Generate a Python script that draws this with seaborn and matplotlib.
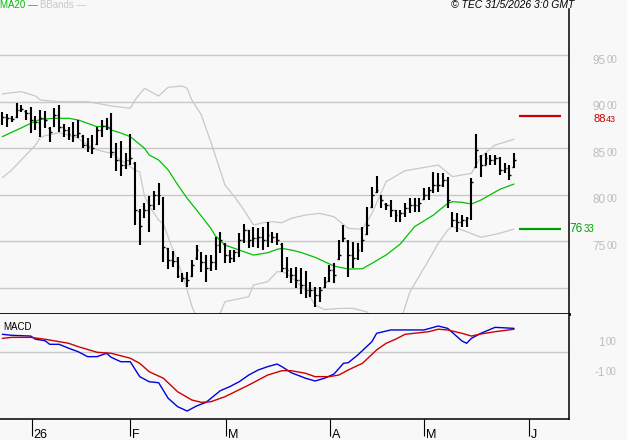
import numpy as np
import pandas as pd
import matplotlib
matplotlib.use("Agg")
import matplotlib.pyplot as plt
import matplotlib.transforms as mtransforms
import seaborn as sns

# ---------------- data ----------------
highs = [8894, 8869, 8851, 8984, 8966, 8912, 8941, 8848, 8912, 8902,
         8733, 8931, 8966, 8759, 8733, 8780, 8805, 8644, 8608, 8644,
         8733, 8805, 8821, 8883, 8555, 8583, 8447, 8654, 8357, 7846,
         7910, 7988, 8045, 8131, 7974, 7435, 7397, 7336, 7161, 7175,
         7301, 7462, 7390, 7360, 7355, 7551, 7605, 7480, 7408, 7408,
         7588, 7688, 7623, 7659, 7641, 7659, 7712, 7605, 7588, 7480,
         7336, 7215, 7229, 7212, 7183, 7068, 7014, 7014, 7121, 7247,
         7265, 7516, 7677, 7516, 7497, 7480, 7659, 7873, 8088, 8203,
         7999, 7910, 7945, 7838, 7838, 7910, 7964, 7964, 7964, 8071,
         8088, 8249, 8232, 8232, 8196, 7820, 7802, 7784, 7766, 8178,
         8654, 8429, 8447, 8429, 8429, 8411, 8340, 8321, 8447]
lows = [8751, 8733, 8780, 8830, 8888, 8805, 8662, 8697, 8625, 8716,
        8572, 8733, 8679, 8625, 8590, 8572, 8608, 8501, 8464, 8436,
        8536, 8625, 8697, 8393, 8260, 8203, 8275, 8321, 7677, 7462,
        7749, 7605, 7838, 7892, 7283, 7204, 7229, 7104, 7065, 7014,
        7118, 7306, 7172, 7068, 7183, 7193, 7373, 7265, 7265, 7283,
        7336, 7480, 7427, 7444, 7427, 7408, 7444, 7480, 7462, 7175,
        7104, 7050, 6997, 6936, 6889, 6907, 6799, 6853, 6997, 7068,
        7050, 7301, 7497, 7121, 7212, 7301, 7390, 7569, 7856, 8017,
        7856, 7838, 7766, 7712, 7712, 7766, 7802, 7820, 7820, 7945,
        7945, 8017, 8035, 8088, 7856, 7659, 7605, 7659, 7659, 7731,
        8286, 8196, 8321, 8321, 8321, 8214, 8232, 8160, 8286]
opens = [8800, 8835, 8825, 8840, 8910, 8905, 8880, 8805, 8785, 8825,
         8720, 8745, 8860, 8730, 8700, 8655, 8645, 8630, 8535, 8515,
         8550, 8695, 8740, 8730, 8460, 8375, 8320, 8375, 8340, 7830,
         7760, 7840, 7890, 8000, 7960, 7425, 7300, 7290, 7130, 7105,
         7130, 7320, 7380, 7280, 7215, 7280, 7460, 7470, 7355, 7320,
         7385, 7515, 7620, 7515, 7535, 7550, 7515, 7570, 7550, 7470,
         7215, 7195, 7140, 7085, 7030, 6980, 6980, 6925, 7010, 7075,
         7195, 7310, 7510, 7505, 7355, 7320, 7410, 7580, 7870, 8030,
         7990, 7905, 7890, 7835, 7785, 7805, 7860, 7890, 7890, 7955,
         8000, 8055, 8105, 8105, 8160, 7810, 7730, 7710, 7730, 7750,
         8300, 8420, 8325, 8395, 8375, 8395, 8270, 8290, 8295]
closes = [8837, 8826, 8816, 8912, 8923, 8880, 8805, 8783, 8826, 8805,
          8676, 8859, 8730, 8697, 8654, 8644, 8665, 8536, 8515, 8504,
          8697, 8740, 8730, 8461, 8375, 8321, 8375, 8397, 7838, 7666,
          7838, 7892, 7999, 7999, 7440, 7301, 7290, 7129, 7107, 7086,
          7247, 7408, 7279, 7215, 7279, 7462, 7516, 7355, 7322, 7387,
          7516, 7623, 7516, 7537, 7548, 7516, 7569, 7548, 7516, 7215,
          7193, 7140, 7086, 7032, 6979, 6979, 6925, 6979, 7065, 7193,
          7140, 7355, 7537, 7355, 7322, 7408, 7516, 7677, 7999, 8053,
          7945, 7892, 7838, 7784, 7806, 7860, 7892, 7892, 7913, 7999,
          8053, 8107, 8107, 8160, 7945, 7731, 7709, 7731, 7752, 8139,
          8483, 8321, 8397, 8375, 8397, 8268, 8289, 8214, 8375]

ma_idx = [0, 4, 6, 8, 11, 14, 16, 18, 20, 22,
          23, 25, 27, 30, 31, 33, 35, 37, 39, 41,
          44, 45, 47, 50, 53, 56, 58, 59, 61, 63,
          66, 70, 73, 76, 78, 81, 84, 87, 91, 94,
          95, 97, 99, 101, 105, 108]
ma_val = [8626, 8720, 8769, 8812, 8823, 8823, 8805, 8769, 8733, 8737,
          8697, 8665, 8626, 8501, 8429, 8375, 8268, 8110, 7964, 7838,
          7641, 7559, 7462, 7408, 7354, 7379, 7416, 7426, 7408, 7383,
          7330, 7236, 7204, 7207, 7265, 7355, 7473, 7659, 7784, 7910,
          7927, 7921, 7902, 7945, 8060, 8117]

ub_idx = [0, 2, 4, 7, 8, 12, 18, 20, 23, 27,
          28, 30, 33, 35, 38, 39, 40, 42, 44, 47,
          49, 51, 53, 55, 57, 59, 61, 64, 67, 70,
          73, 76, 78, 81, 85, 92, 95, 99, 101, 104,
          108]
ub_val = [9084, 9098, 9109, 9063, 9020, 9001, 9001, 8984, 8955, 8931,
          9020, 9145, 9063, 9156, 9170, 9145, 9020, 8860, 8569, 8107,
          7981, 7838, 7677, 7701, 7712, 7701, 7749, 7784, 7802, 7766,
          7641, 7631, 7802, 8142, 8260, 8321, 8196, 8232, 8410, 8536,
          8597]

lb_idx = [0, 2, 4, 7, 8, 9, 12, 14, 16, 18,
          20, 23, 25, 28, 29, 30, 31, 33, 34, 35,
          37, 38, 40, 42, 44, 46, 47, 52, 53, 56,
          58, 59, 60, 62, 63, 64, 65, 66, 68, 71,
          74, 77, 78, 81, 84, 86, 90, 92, 94, 95,
          98, 101, 105, 108]
lb_val = [8185, 8268, 8375, 8536, 8615, 8636, 8668, 8644, 8608, 8536,
          8483, 8447, 8375, 8268, 8246, 7988, 7881, 7730, 7688, 7548,
          7280, 7150, 6807, 6560, 6560, 6731, 6853, 6907, 7032, 7068,
          7175, 7175, 7158, 7075, 7021, 6979, 6903, 6817, 6769, 6780,
          6782, 6742, 6678, 6603, 6635, 6957, 7301, 7480, 7623, 7659,
          7605, 7545, 7588, 7634]

macd_idx = [0, 2, 6, 7, 9, 10, 12, 14, 16, 18,
            20, 22, 23, 25, 27, 29, 31, 33, 35, 37,
            39, 41, 43, 46, 48, 50, 52, 54, 56, 58,
            59, 61, 64, 66, 68, 70, 72, 73, 75, 78,
            79, 82, 84, 89, 91, 92, 94, 97, 98, 99,
            101, 104, 108]
macd_val = [122, 115, 110, 88, 78, 53, 53, 26, 2, -32,
            -32, -9, -37, -67, -67, -170, -205, -212, -319, -377,
            -407, -372, -347, -267, -239, -205, -159, -124, -101, -83,
            -101, -143, -181, -200, -181, -152, -78, -74, -21, 71,
            129, 152, 152, 152, 170, 179, 163, 76, 60, 94,
            129, 170, 163]
sig_idx = [0, 2, 6, 9, 14, 16, 20, 23, 27, 29,
           31, 34, 37, 40, 42, 44, 47, 52, 56, 59,
           61, 64, 66, 69, 71, 73, 76, 79, 81, 83,
           85, 90, 92, 94, 97, 99, 101, 104, 108]
sig_val = [94, 101, 101, 88, 60, 37, -2, -9, -43, -78,
           -136, -181, -274, -331, -347, -343, -308, -228, -159, -129,
           -129, -147, -170, -170, -159, -124, -78, 14, 60, 88,
           122, 140, 157, 152, 129, 110, 124, 140, 157]

month_ticks = [6.2, 26.9, 47.2, 69.1, 89.0, 111.1]
month_labels = ["26", "F", "M", "A", "M", "J"]

price_grid = [7000, 7500, 8000, 8500, 9000, 9500]
price_labels = [7500, 8000, 8500, 9000, 9500]
macd_labels = [100, -100]
resistance = 8843
support = 7633
level_span = [109, 118]

# ---------------- styling ----------------
BG = "#f8f8f8"
GRID = "#c8c8c8"
LABEL_GRAY = "#bebebe"
GREEN = "#00c000"
LEVEL_GREEN = "#00a000"
RED = "#cc0000"
BLUE = "#0000e0"

sns.set_style("white")
plt.rcParams["font.family"] = ["Liberation Sans", "DejaVu Sans"]

W, H = 627, 440
fig = plt.figure(figsize=(W / 100, H / 100), dpi=100, facecolor=BG)


def px_axes(x0, y0, x1, y1):
    return fig.add_axes([x0 / W, 1 - y1 / H, (x1 - x0) / W, (y1 - y0) / H])


ax = px_axes(0, 9, 569, 314)
axm = px_axes(0, 314, 569, 419)

for a in (ax, axm):
    a.set_facecolor(BG)
    a.set_xlim(-0.49, 119.6)
    for s in ("left", "top"):
        a.spines[s].set_visible(False)
    a.spines["right"].set_color("black")
    a.spines["right"].set_linewidth(1.1)
    a.spines["bottom"].set_color("black")
    a.set_yticks([])

ax.spines["bottom"].set_linewidth(2.0)
axm.spines["bottom"].set_linewidth(1.1)
ax.set_ylim(6721, 9997)
axm.set_ylim(-462, 262)

# grid
for g in price_grid:
    ax.axhline(g, color=GRID, lw=1.0, zorder=0)
axm.axhline(0, color=GRID, lw=1.0, zorder=0)

# bands and MA
bands = pd.DataFrame({"i": ub_idx, "v": ub_val})
sns.lineplot(data=bands, x="i", y="v", ax=ax, color=GRID, lw=0.9, zorder=1)
bands_l = pd.DataFrame({"i": lb_idx, "v": lb_val})
sns.lineplot(data=bands_l, x="i", y="v", ax=ax, color=GRID, lw=0.9, zorder=1)
ma = pd.DataFrame({"i": ma_idx, "v": ma_val})
sns.lineplot(data=ma, x="i", y="v", ax=ax, color=GREEN, lw=0.9, zorder=2)

# OHLC bars
idx = np.arange(len(highs))
ax.vlines(idx, lows, highs, color="black", lw=1.5, zorder=3)
ax.hlines(opens, idx - 0.38, idx, color="black", lw=1.0, zorder=3)
ax.hlines(closes, idx, idx + 0.38, color="black", lw=1.0, zorder=3)

# levels
ax.hlines([resistance], level_span[0], level_span[1], color=RED, lw=1.6, zorder=3)
ax.hlines([support], level_span[0], level_span[1], color=LEVEL_GREEN, lw=1.6, zorder=3)

# MACD
mdf = pd.DataFrame({"i": macd_idx, "v": macd_val})
sns.lineplot(data=mdf, x="i", y="v", ax=axm, color=BLUE, lw=1.0, zorder=2)
sdf = pd.DataFrame({"i": sig_idx, "v": sig_val})
sns.lineplot(data=sdf, x="i", y="v", ax=axm, color=RED, lw=1.0, zorder=3)

for a in (ax, axm):
    a.set_xlabel("")
    a.set_ylabel("")

ax.set_xticks([])
axm.set_xticks(month_ticks)
axm.set_xticklabels([""] * len(month_ticks))
axm.tick_params(axis="x", bottom=True, length=12.5, width=0.8, color="black",
                direction="out")
for pos, lab in zip(month_ticks, month_labels):
    axm.annotate(lab, xy=(pos, 0), xycoords=("data", "axes fraction"),
                 xytext=(2, -19), textcoords="offset pixels",
                 ha="left", va="baseline", fontsize=9, color="black",
                 annotation_clip=False)


# right-side labels with small last two digits
def split_label(a, value, color, x_px, va="top", dy_px=0.0, big=8.5, small=7):
    trans = mtransforms.blended_transform_factory(a.transAxes, a.transData)
    trans = trans + mtransforms.ScaledTranslation(0, -dy_px / 100, fig.dpi_scale_trans)
    s = str(value)
    xa = x_px / 569
    a.text(xa, value, s[:-2], transform=trans, ha="right", va=va,
           fontsize=big, color=color, clip_on=False)
    a.text(xa + 0.8 / 569, value, s[-2:], transform=trans, ha="left", va=va,
           fontsize=small, color=color, clip_on=False)


for v in price_labels:
    split_label(ax, v, LABEL_GRAY, 605.5, dy_px=-0.5)
for v in macd_labels:
    split_label(axm, v, LABEL_GRAY, 605.0)
split_label(ax, resistance, RED, 605.5, va="center", dy_px=3.0, big=8, small=6.5)
split_label(ax, support, LEVEL_GREEN, 582.5, va="center")

# header texts
fig.text(0.5 / W, 1 - 5 / H, "MA20 \u2014", color=GREEN, fontsize=7, va="center", ha="left")
fig.text(40 / W, 1 - 5 / H, "BBands \u2014", color=GRID, fontsize=7, va="center", ha="left")
fig.text(574 / W, 1 - 5 / H, "\u00a9 TEC 31/5/2026 3:0 GMT", color="black",
         fontsize=7.5, style="italic", va="center", ha="right")
fig.text(3 / W, 1 - 327 / H, "MACD", color="black", fontsize=7, va="center", ha="left")

fig.savefig("out.png", dpi=100, facecolor=BG)
